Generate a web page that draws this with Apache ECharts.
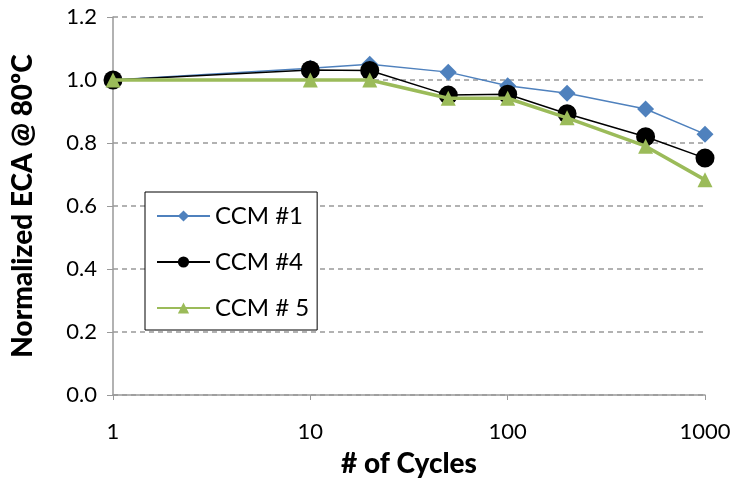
<!DOCTYPE html>
<html>
<head>
<meta charset="utf-8">
<script src="https://cdn.jsdelivr.net/npm/echarts@6/dist/echarts.min.js"></script>
<style>html,body{margin:0;padding:0;background:#fff}#c{width:732px;height:489px}</style>
</head>
<body>
<div id="c"></div>
<script>
const cycles = [1, 10, 20, 50, 100, 200, 500, 1000];
const ccm1 = [1.0, 1.037, 1.05, 1.025, 0.982, 0.958, 0.908, 0.828];
const ccm4 = [1.0, 1.032, 1.03, 0.952, 0.955, 0.893, 0.82, 0.752];
const ccm5 = [1.0, 1.0, 1.0, 0.942, 0.942, 0.88, 0.79, 0.683];
const seriesNames = ['CCM #1', 'CCM #4', 'CCM # 5'];
const yTitle = 'Normalized ECA @ 80ºC';
const xTitle = '# of Cycles';

const font = 'Lato, "Open Sans", sans-serif';
const pair = arr => cycles.map((c, i) => [c, arr[i]]);

const chart = echarts.init(document.getElementById('c'));
chart.setOption({
  animation: false,
  backgroundColor: '#fff',
  grid: { left: 113, right: 27, top: 17, bottom: 94, containLabel: false, outerBoundsMode: 'none' },
  legend: {
    orient: 'vertical',
    left: 145, top: 192,
    padding: [12, 8, 10, 11],
    itemGap: 22,
    itemWidth: 53, itemHeight: 14,
    borderColor: '#000', borderWidth: 1,
    backgroundColor: '#fff',
    textStyle: { fontFamily: font, fontSize: 24, color: '#000' },
    data: seriesNames
  },
  xAxis: {
    type: 'log', logBase: 10, min: 1, max: 1000,
    name: xTitle, nameLocation: 'middle', nameGap: 55,
    nameTextStyle: { fontFamily: font, fontSize: 28, fontWeight: 900, color: '#000' },
    axisLine: { lineStyle: { color: '#999', width: 1.5 } },
    axisTick: { show: true, length: 5, lineStyle: { color: '#999' } },
    minorTick: { show: false },
    splitLine: { show: false },
    axisLabel: { fontFamily: font, fontSize: 22, color: '#000', margin: 26,
      formatter: v => String(Math.round(v)) }
  },
  yAxis: {
    type: 'value', min: 0, max: 1.2, interval: 0.2,
    name: yTitle, nameLocation: 'middle', nameGap: 76,
    nameTextStyle: { fontFamily: font, fontSize: 28, fontWeight: 900, color: '#000' },
    axisLine: { show: true, lineStyle: { color: '#999', width: 1.5 } },
    axisTick: { show: true, length: 6, lineStyle: { color: '#999' } },
    splitLine: { show: true, lineStyle: { color: '#999', type: [5, 4], width: 1.5 } },
    axisLabel: { fontFamily: font, fontSize: 22, color: '#000', margin: 16,
      formatter: v => v.toFixed(1) }
  },
  series: [
    { name: seriesNames[0], type: 'line', data: pair(ccm1),
      symbol: 'diamond', symbolSize: 17,
      lineStyle: { color: '#4f81bd', width: 1.5 },
      itemStyle: { color: '#4f81bd' }, z: 2 },
    { name: seriesNames[1], type: 'line', data: pair(ccm4),
      symbol: 'circle', symbolSize: 19,
      lineStyle: { color: '#000', width: 1.5 },
      itemStyle: { color: '#000' }, z: 3 },
    { name: seriesNames[2], type: 'line', data: pair(ccm5),
      symbol: 'triangle', symbolSize: 15,
      lineStyle: { color: '#9bbb59', width: 3.5 },
      itemStyle: { color: '#9bbb59' }, z: 4 }
  ]
});
</script>
</body>
</html>
